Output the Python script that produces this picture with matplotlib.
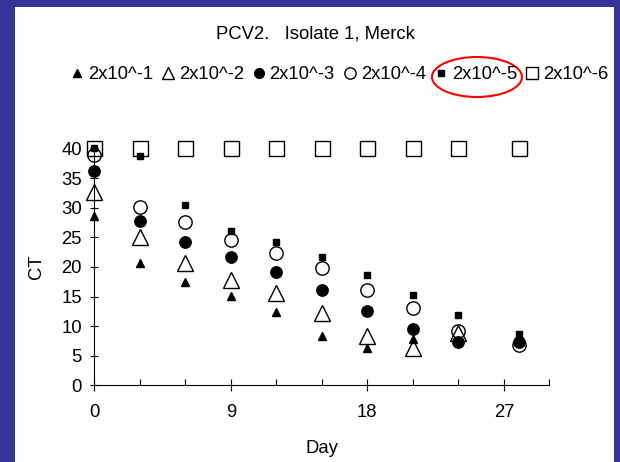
import numpy as np
import matplotlib
matplotlib.use("Agg")
import matplotlib.pyplot as plt
from matplotlib.patches import Ellipse, Rectangle
from matplotlib.ticker import MultipleLocator

# =====================================================
# DATA
# =====================================================
days = [0, 3, 6, 9, 12, 15, 18, 21, 24, 28]

ct_1 = [28.6, 20.7, 17.5, 15.1, 12.4, 8.4, 6.3, 7.8, 7.6, np.nan]
ct_2 = [32.6, 25.1, 20.6, 17.8, 15.6, 12.2, 8.3, 6.4, 8.8, np.nan]
ct_3 = [36.2, 27.7, 24.3, 21.7, 19.1, 16.2, 12.6, 9.5, 7.4, 7.3]
ct_4 = [38.9, 30.1, 27.6, 24.6, 22.4, 19.8, 16.2, 13.0, 9.2, 6.8]
ct_5 = [40.0, 38.7, 30.4, 26.0, 24.2, 21.7, 18.6, 15.3, 11.9, 8.7]
ct_6 = [40, 40, 40, 40, 40, 40, 40, 40, 40, 40]

labels = ["2x10^-1", "2x10^-2", "2x10^-3", "2x10^-4", "2x10^-5", "2x10^-6"]

# =====================================================
# STYLE
# =====================================================
plt.rcParams["font.family"] = ["Liberation Sans", "DejaVu Sans"]
plt.rcParams["font.size"] = 13.3

BLUE = "#333399"

fig = plt.figure(figsize=(6.2, 4.62), dpi=100, facecolor=BLUE)
fig.patches.append(Rectangle((15 / 620, 0), 599 / 620, 455 / 462,
                             transform=fig.transFigure, facecolor="white",
                             edgecolor="none", zorder=-1))

ax = fig.add_axes([0.1521, 0.1656, 0.734, 0.513])
ax.set_facecolor("none")
ax.set_zorder(1)

styles = [
    dict(marker="^", ms=6.2, mfc="black", mec="black"),
    dict(marker="^", ms=11.0, mfc="none", mec="black"),
    dict(marker="o", ms=8.2, mfc="black", mec="black"),
    dict(marker="o", ms=9.6, mfc="none", mec="black"),
    dict(marker="s", ms=4.6, mfc="black", mec="black"),
    dict(marker="s", ms=10.8, mfc="none", mec="black"),
]

series = [ct_1, ct_2, ct_3, ct_4, ct_5, ct_6]
handles = []
for vals, st, lab in zip(series, styles, labels):
    h, = ax.plot(days, vals, linestyle="none", mew=1.0, clip_on=False,
                 label=lab, zorder=3, **st)
    handles.append(h)

# =====================================================
# AXES
# =====================================================
ax.set_xlim(0, 30)
ax.set_ylim(0, 40)
ax.spines["top"].set_visible(False)
ax.spines["right"].set_visible(False)
for s in ["left", "bottom"]:
    ax.spines[s].set_linewidth(0.8)

ax.xaxis.set_major_locator(MultipleLocator(9))
ax.xaxis.set_minor_locator(MultipleLocator(3))
ax.yaxis.set_major_locator(MultipleLocator(5))

ax.tick_params(axis="x", which="major", direction="inout", length=8,
               width=0.8, pad=9)
ax.tick_params(axis="x", which="minor", direction="in", length=4, width=0.8)
ax.tick_params(axis="y", which="major", direction="inout", length=6,
               width=0.8, pad=6)

ax.set_xlabel("Day", va="center")
ax.xaxis.set_label_coords(0.5, -0.265)
ax.set_ylabel("CT", va="center")
ax.yaxis.set_label_coords(-0.128, 0.5)

# =====================================================
# TITLE + LEGEND
# =====================================================
fig.text(0.508, 0.926, "PCV2.   Isolate 1, Merck", ha="center", va="center",
         fontsize=13.3)

fig.legend(handles=handles, loc="center", bbox_to_anchor=(0.547, 0.838),
           ncol=6, frameon=False, handlelength=0.7, handletextpad=0.25,
           columnspacing=0.45, borderpad=0, fontsize=13.3, markerscale=0.85)

fig.patches.append(Ellipse((477 / 620, 1 - 77 / 462), 90 / 620, 40 / 462,
                           transform=fig.transFigure, facecolor="none",
                           edgecolor="red", linewidth=1.5, zorder=5))

plt.savefig("out.png", dpi=100, facecolor=BLUE)
plt.close()
